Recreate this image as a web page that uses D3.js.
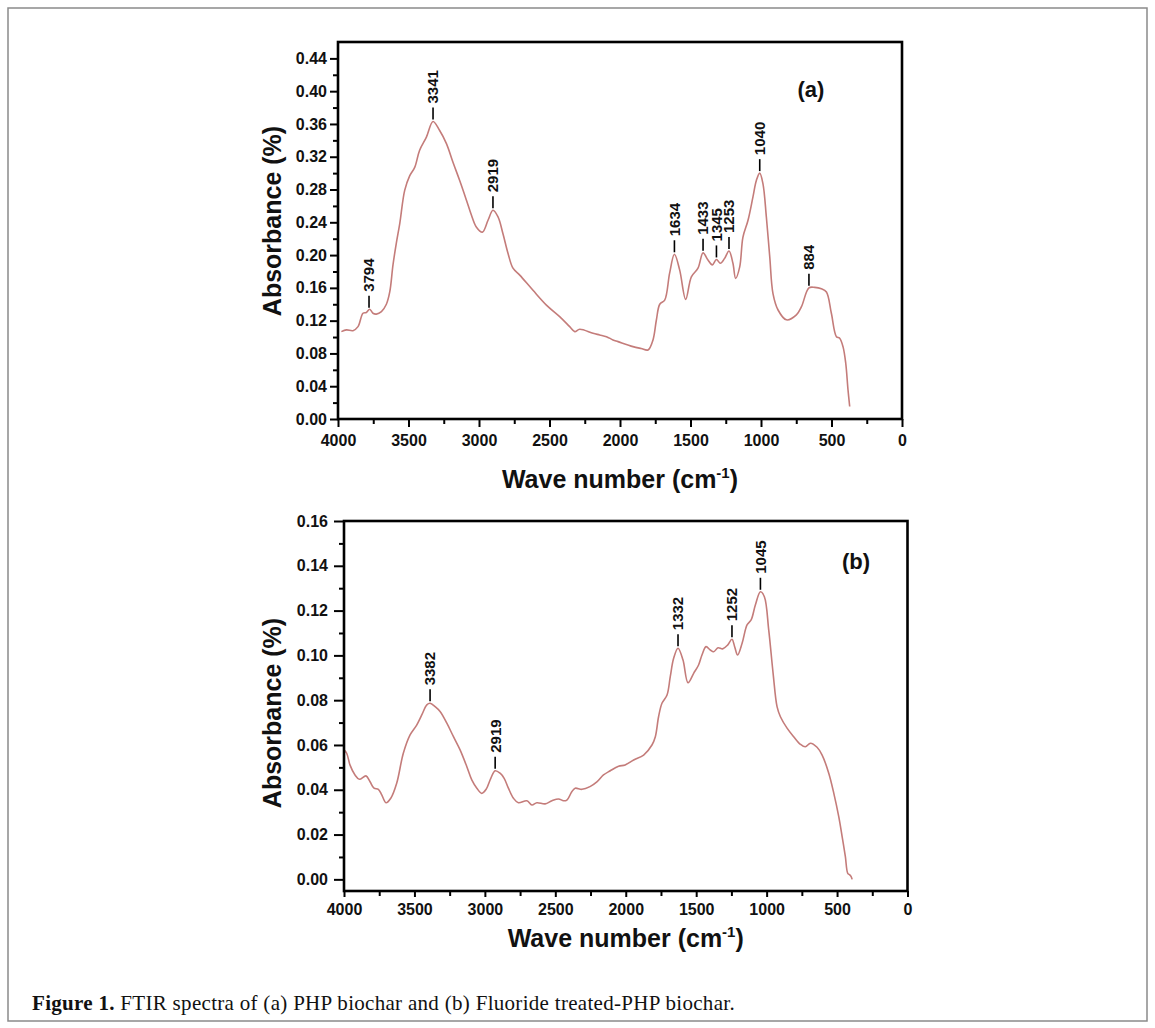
<!DOCTYPE html>
<html>
<head>
<meta charset="utf-8">
<script src="https://cdn.jsdelivr.net/npm/d3@7"></script>
<style>
  body { margin: 0; background: #fff; }
  svg { display: block; }
  text { font-family: "Liberation Sans", Arial, Helvetica, sans-serif; }
</style>
</head>
<body>
<svg id="fig" width="1155" height="1028"></svg>
<script>
// ---- Spectrum (a): PHP biochar ----
const waveA = [3976,3940,3894,3858,3823,3799,3775,3752,3728,3692,3657,3633,3610,3586,3562,3527,3491,3456,3421,3373,
  3326,3279,3231,3184,3137,3089,3054,3018,2976,2936,2901,2865,2830,2794,2759,2711,2617,2522,2428,2357,
  2321,2286,2191,2144,2096,2050,2014,1908,1850,1801,1766,1742,1718,1683,1648,1614,1577,1534,1494,1447,
  1411,1376,1345,1316,1288,1258,1227,1199,1180,1151,1128,1092,1057,1033,1009,986,962,938,915,879,
  820,749,713,660,619,572,536,501,465,442,418,399,383,371];
const absA = [0.1066,0.1087,0.1078,0.1127,0.129,0.130,0.134,0.129,0.128,0.131,0.140,0.155,0.188,0.215,0.2385,0.279,0.297,0.307,0.328,0.344,
  0.363,0.352,0.336,0.313,0.291,0.267,0.249,0.234,0.228,0.2425,0.2547,0.2466,0.226,0.202,0.184,0.1756,0.157,0.139,0.125,0.1127,
  0.1066,0.1095,0.1046,0.1026,0.1005,0.0965,0.0944,0.0883,0.0860,0.0843,0.0965,0.1208,0.140,0.145,0.178,0.201,0.182,0.146,0.1735,0.184,
  0.2027,0.194,0.188,0.1947,0.190,0.196,0.205,0.190,0.1716,0.1857,0.222,0.2425,0.271,0.291,0.300,0.287,0.2465,0.198,0.153,0.133,
  0.121,0.127,0.137,0.160,0.1606,0.159,0.155,0.129,0.1005,0.0986,0.088,0.068,0.0357,0.0153];
const peakLabelsA = ["3794","3341","2919","1634","1433","1345","1253","1040","884"];
const peakAtA = [3780,3326,2901,1614,1411,1316,1227,1009,660];
const yTicksA = [0,0.04,0.08,0.12,0.16,0.20,0.24,0.28,0.32,0.36,0.40,0.44];
const yMinorA = [0.02,0.06,0.10,0.14,0.18,0.22,0.26,0.30,0.34,0.38,0.42];

// ---- Spectrum (b): fluoride treated PHP biochar ----
const waveB = [4000,3981,3957,3922,3891,3844,3815,3787,3756,3732,3702,3668,3626,3579,3531,3484,3448,3412,3389,3353,
  3318,3270,3223,3176,3128,3093,3057,3022,2991,2958,2927,2892,2863,2833,2797,2762,2702,2666,2631,2572,
  2524,2477,2442,2418,2382,2359,2311,2254,2205,2158,2110,2051,2004,1944,1873,1814,1790,1767,1743,1707,
  1684,1660,1629,1594,1558,1518,1483,1459,1430,1400,1376,1345,1312,1277,1246,1227,1206,1174,1139,1110,
  1080,1044,1016,985,954,926,902,855,808,760,725,689,642,606,559,523,488,464,441,424,410,400,393];
const absB = [0.0578,0.0563,0.051,0.0466,0.0447,0.0462,0.0436,0.0407,0.0402,0.0377,0.0342,0.0362,0.0429,0.0563,0.0645,0.0689,0.0734,0.0779,0.0786,0.0771,
  0.0749,0.0697,0.0637,0.0578,0.0503,0.0444,0.0407,0.0384,0.0402,0.0451,0.0485,0.0474,0.0451,0.0407,0.0362,0.0342,0.0351,0.0332,0.0342,0.0337,
  0.0351,0.0359,0.0351,0.0354,0.0392,0.0407,0.0402,0.0414,0.0435,0.0466,0.0485,0.0505,0.0511,0.0533,0.0555,0.060,0.0637,0.0726,0.0786,0.0823,
  0.0905,0.0987,0.1032,0.098,0.0878,0.092,0.0957,0.1002,0.1039,0.1024,0.1016,0.1034,0.1029,0.1046,0.1072,0.1039,0.1002,0.1054,0.1136,0.1158,
  0.1225,0.1284,0.1262,0.1113,0.092,0.0771,0.0726,0.0675,0.0637,0.0603,0.0592,0.0608,0.059,0.0555,0.0474,0.0384,0.028,0.0191,0.0101,0.0027,0.002,0.0012,0.000];
const peakLabelsB = ["3382","2919","1332","1252","1045"];
const peakAtB = [3389,2927,1629,1246,1044];
const yTicksB = [0,0.02,0.04,0.06,0.08,0.10,0.12,0.14,0.16];
const yMinorB = [0.01,0.03,0.05,0.07,0.09,0.11,0.13,0.15];

// ---- Shared x-axis ticks (cm-1) ----
const xTicks = [4000,3500,3000,2500,2000,1500,1000,500,0];
const xMinor = [3750,3250,2750,2250,1750,1250,750,250];

const captionBold = "Figure 1.";
const captionText = " FTIR spectra of (a) PHP biochar and (b) Fluoride treated-PHP biochar.";

const svg = d3.select("#fig");
svg.append("rect").attr("width", 1155).attr("height", 1028).attr("fill", "#fff");
svg.append("rect")
  .attr("x", 8).attr("y", 8).attr("width", 1139).attr("height", 1013)
  .attr("fill", "none").attr("stroke", "#8a8a8a").attr("stroke-width", 1.5);

// linear interpolation of a spectrum at a given wavenumber
function absorbanceAt(waves, vals, w) {
  for (let i = 0; i < waves.length - 1; i++) {
    if (waves[i] >= w && w >= waves[i + 1]) {
      const t = (waves[i] - w) / (waves[i] - waves[i + 1]);
      return vals[i] + t * (vals[i + 1] - vals[i]);
    }
  }
  return vals[vals.length - 1];
}

function drawPanel(o) {
  const g = svg.append("g");
  const x = d3.scaleLinear().domain([4000, 0]).range([o.left, o.right]);
  const y = d3.scaleLinear().domain(o.yDomain).range([o.bottom, o.top]);

  // minor ticks
  g.append("g").attr("transform", `translate(0,${o.bottom})`)
    .call(d3.axisBottom(x).tickValues(xMinor).tickSize(5).tickFormat(""))
    .call(s => s.select(".domain").remove())
    .call(s => s.selectAll("line").attr("stroke", "#000").attr("stroke-width", 2));
  g.append("g").attr("transform", `translate(${o.left},0)`)
    .call(d3.axisLeft(y).tickValues(o.yMinor).tickSize(5).tickFormat(""))
    .call(s => s.select(".domain").remove())
    .call(s => s.selectAll("line").attr("stroke", "#000").attr("stroke-width", 2));

  // major ticks + labels
  const gx = g.append("g").attr("transform", `translate(0,${o.bottom})`)
    .call(d3.axisBottom(x).tickValues(xTicks).tickSize(o.xTickLen).tickPadding(o.xPad)
      .tickFormat(d3.format("d")));
  const gy = g.append("g").attr("transform", `translate(${o.left},0)`)
    .call(d3.axisLeft(y).tickValues(o.yTicks).tickSize(o.yTickLen).tickPadding(o.yPad)
      .tickFormat(d3.format(".2f")));
  [gx, gy].forEach(a => {
    a.select(".domain").remove();
    a.selectAll("line").attr("stroke", "#000").attr("stroke-width", 2);
    a.selectAll("text").attr("fill", "#111").style("font-size", "16px")
      .style("font-weight", "bold").style("font-family", '"Liberation Sans", Arial, sans-serif');
  });

  // spectrum
  const pts = o.waves.map((w, i) => [w, o.vals[i]]);
  g.append("path").datum(pts)
    .attr("fill", "none").attr("stroke", "#c47c7a").attr("stroke-width", 1.6)
    .attr("stroke-linejoin", "round")
    .attr("d", d3.line().x(d => x(d[0])).y(d => y(d[1])).curve(d3.curveCatmullRom.alpha(0.5)));

  // frame
  g.append("rect")
    .attr("x", o.left).attr("y", o.top)
    .attr("width", o.right - o.left).attr("height", o.bottom - o.top)
    .attr("fill", "none").attr("stroke", "#000").attr("stroke-width", 2.6);

  // peak annotations
  o.peakAt.forEach((w, i) => {
    const px = x(w);
    const py = y(absorbanceAt(o.waves, o.vals, w));
    const y0 = py - 2, y1 = py - 14;
    g.append("line").attr("x1", px).attr("x2", px).attr("y1", y0).attr("y2", y1)
      .attr("stroke", "#000").attr("stroke-width", 1.6);
    g.append("text")
      .attr("transform", `translate(${px},${y1 - 4}) rotate(-90)`)
      .attr("dy", "0.36em")
      .attr("fill", "#111").style("font-size", "15px").style("font-weight", "bold")
      .text(o.peakLabels[i]);
  });

  // panel tag
  g.append("text").attr("x", o.tagX).attr("y", o.tagY).attr("text-anchor", "middle")
    .attr("fill", "#111").style("font-size", "22px").style("font-weight", "bold")
    .text(o.tag);

  // axis titles
  const xt = g.append("text").attr("x", (o.left + o.right) / 2).attr("y", o.xTitleY)
    .attr("text-anchor", "middle").attr("fill", "#111")
    .style("font-size", "25px").style("font-weight", "bold");
  xt.append("tspan").text("Wave number (cm");
  xt.append("tspan").attr("dy", "-10").style("font-size", "15px").text("-1");
  xt.append("tspan").attr("dy", "10").text(")");

  g.append("text")
    .attr("transform", `translate(${o.yTitleX},${o.yTitleY}) rotate(-90)`)
    .attr("text-anchor", "middle").attr("fill", "#111")
    .style("font-size", "25px").style("font-weight", "bold")
    .text("Absorbance (%)");
}

drawPanel({
  left: 338, right: 902, top: 42, bottom: 419, yDomain: [0, 0.46],
  waves: waveA, vals: absA, peakAt: peakAtA, peakLabels: peakLabelsA,
  yTicks: yTicksA, yMinor: yMinorA,
  xTickLen: 8, xPad: 8, yTickLen: 8, yPad: 3,
  tag: "(a)", tagX: 811, tagY: 97,
  xTitleY: 488, yTitleX: 281, yTitleY: 221
});

drawPanel({
  left: 344, right: 907.5, top: 521, bottom: 891, yDomain: [-0.0052, 0.16],
  waves: waveB, vals: absB, peakAt: peakAtB, peakLabels: peakLabelsB,
  yTicks: yTicksB, yMinor: yMinorB,
  xTickLen: 6, xPad: 7, yTickLen: 10, yPad: 6,
  tag: "(b)", tagX: 856, tagY: 569,
  xTitleY: 947, yTitleX: 281, yTitleY: 713
});

// caption
const cap = svg.append("text").attr("x", 32).attr("y", 1010)
  .attr("fill", "#111")
  .style("font-family", '"Liberation Serif", "Times New Roman", serif')
  .style("font-size", "21px").style("letter-spacing", "0.3px");
cap.append("tspan").style("font-weight", "bold").text(captionBold);
cap.append("tspan").text(captionText);
</script>
</body>
</html>
